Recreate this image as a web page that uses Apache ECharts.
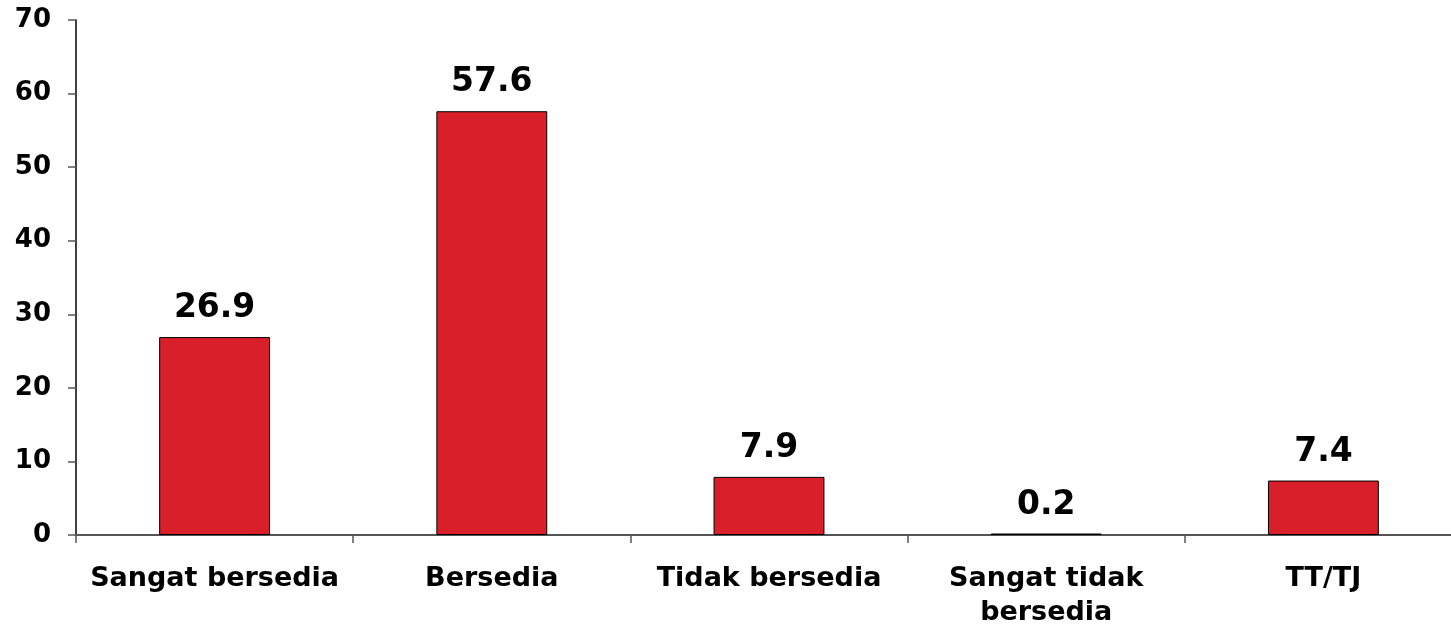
<!DOCTYPE html>
<html>
<head>
<meta charset="utf-8">
<script src="https://cdn.jsdelivr.net/npm/echarts@6/dist/echarts.min.js"></script>
<style>html,body{margin:0;padding:0;background:#fff}#c{width:1451px;height:626px}</style>
</head>
<body>
<div id="c"></div>
<script>
const categories = ["Sangat bersedia", "Bersedia", "Tidak bersedia", "Sangat tidak\nbersedia", "TT/TJ"];
const values = [26.9, 57.6, 7.9, 0.2, 7.4];
const yMin = 0, yMax = 70, yStep = 10;

const font = '"DejaVu Sans", Verdana, sans-serif';
const chart = echarts.init(document.getElementById('c'), null, {renderer: 'canvas'});
chart.setOption({
  animation: false,
  grid: {left: 76, width: 1386, top: 20, bottom: 91, containLabel: false, outerBoundsMode: 'none'},
  xAxis: {
    type: 'category',
    data: categories,
    axisLine: {show: true, lineStyle: {color: '#555', width: 2}},
    axisTick: {show: true, alignWithLabel: false, length: 8, lineStyle: {color: '#555', width: 1.5}},
    axisLabel: {color: '#000', fontFamily: font, fontWeight: 'bold', fontSize: 27, margin: 27, lineHeight: 34, interval: 0}
  },
  yAxis: {
    type: 'value',
    min: yMin, max: yMax, interval: yStep,
    splitLine: {show: false},
    axisLine: {show: true, lineStyle: {color: '#000', width: 1.5}},
    axisTick: {show: true, length: 8, lineStyle: {color: '#555', width: 1.5}},
    axisLabel: {color: '#000', fontFamily: font, fontWeight: 'bold', fontSize: 26, margin: 25}
  },
  series: [{
    type: 'bar',
    data: values,
    barWidth: '40%',
    itemStyle: {color: '#D9202A', borderColor: '#000', borderWidth: 1},
    label: {show: true, position: 'top', distance: 12, color: '#000', fontFamily: font, fontWeight: 'bold', fontSize: 33, formatter: p => p.value.toFixed(1)}
  }]
});
</script>
</body>
</html>
